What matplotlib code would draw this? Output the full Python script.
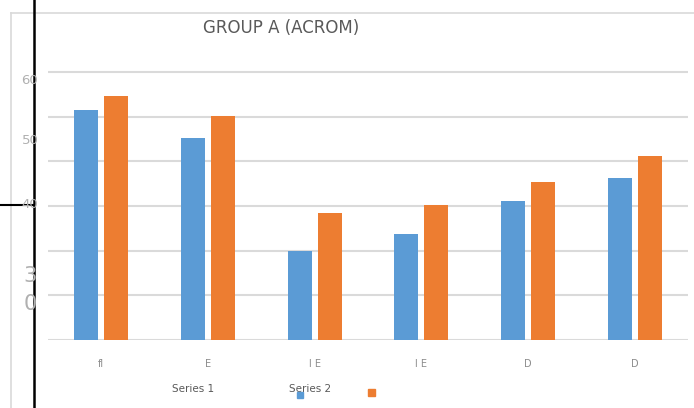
import matplotlib.pyplot as plt
import numpy as np

# values
categories = ["fl", "E", "l E", "l E", "D", "D"]
series1 = [51.5, 45.2, 20.0, 23.8, 31.1, 36.2]
series2 = [54.7, 50.1, 28.5, 30.2, 35.4, 41.2]
series_names = ["Series 1", "Series 2"]
ytick_labels = ["60", "50", "40", "3", "0"]

W, H = 694, 408


def px(x, y):
    # pixel coords (top-left origin) -> figure fraction
    return x / W, 1 - y / H


fig = plt.figure(figsize=(W / 100, H / 100), dpi=100)
fig.patch.set_facecolor("white")

# plot area: baseline at y=340, gridline 60 at y=72
ax = fig.add_axes([48 / W, 68 / H, 640 / W, 62 * (268 / 60) / H])
x = np.arange(len(categories))
width = 0.225
ax.bar(x - 0.14, series1, width, color="#5b9bd5", zorder=3)
ax.bar(x + 0.14, series2, width, color="#ed7d31", zorder=3)

ax.set_xlim(-0.5, len(categories) - 0.5)
ax.set_ylim(0, 62)
ax.set_yticks(np.arange(0, 61, 10))
ax.yaxis.grid(True, color="#dadada", linewidth=1.5, zorder=0)
ax.set_yticklabels([])
ax.tick_params(axis="y", length=0)
for s in ax.spines.values():
    s.set_visible(False)
ax.set_xticks(x)
ax.set_xticklabels(categories, fontsize=7, color="#8c8c8c")
ax.tick_params(axis="x", length=0, pad=14)

# title
fig.text(*px(281, 28), "GROUP A (ACROM)", ha="center", va="center",
         fontsize=12, color="#595959")

# y labels as they sit in the picture
ylab_pos = [(30, 81, 9.5), (30, 140, 9.5), (30, 205, 9.5), (30, 276, 15), (30, 304, 15)]
for lab, (lx, ly, fs) in zip(ytick_labels, ylab_pos):
    fig.text(*px(lx, ly), lab, ha="center", va="center", fontsize=fs, color="#b0b0b0")

# legend
fig.text(*px(193, 389), series_names[0], ha="center", va="center", fontsize=7.5, color="#595959")
fig.text(*px(310, 389), series_names[1], ha="center", va="center", fontsize=7.5, color="#595959")
fig.patches.append(plt.Rectangle(px(297, 398), 6 / W, 6 / H, transform=fig.transFigure,
                                 color="#5b9bd5", zorder=5))
fig.patches.append(plt.Rectangle(px(368, 396), 7 / W, 7 / H, transform=fig.transFigure,
                                 color="#ed7d31", zorder=5))

# chart border (light gray) and black lines
fig.add_artist(plt.Line2D([11 / W, 11 / W], [0, 1 - 13 / H], transform=fig.transFigure,
                          color="#d9d9d9", linewidth=1.2))
fig.add_artist(plt.Line2D([11 / W, 1], [1 - 13 / H, 1 - 13 / H], transform=fig.transFigure,
                          color="#d9d9d9", linewidth=1.2))
fig.add_artist(plt.Line2D([34 / W, 34 / W], [0, 1], transform=fig.transFigure,
                          color="black", linewidth=1.8))
fig.add_artist(plt.Line2D([0, 34 / W], [1 - 205 / H, 1 - 205 / H], transform=fig.transFigure,
                          color="black", linewidth=1.5))

plt.savefig("out.png", dpi=100)
